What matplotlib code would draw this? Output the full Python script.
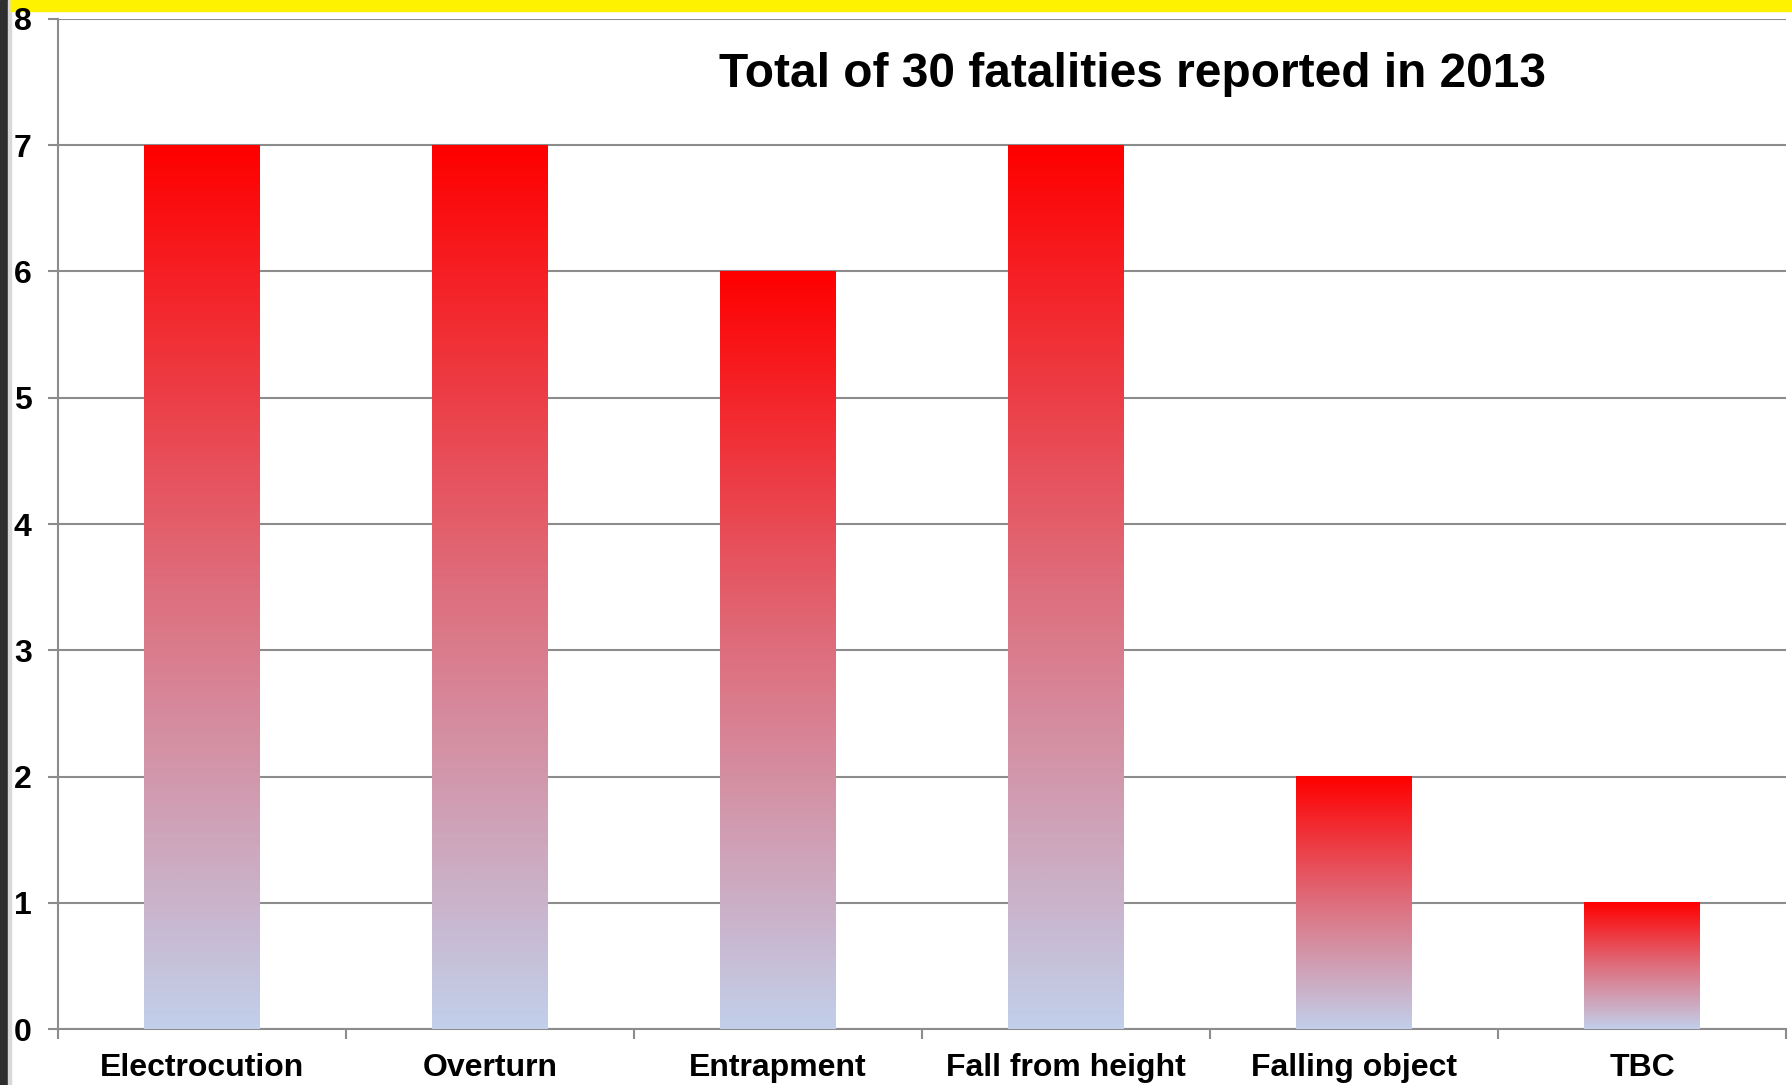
import numpy as np
import matplotlib
matplotlib.use("Agg")
import matplotlib.pyplot as plt
from matplotlib.colors import LinearSegmentedColormap
from matplotlib.patches import Rectangle

categories = ["Electrocution", "Overturn", "Entrapment", "Fall from height",
              "Falling object", "TBC"]
fatalities = [7, 7, 6, 7, 2, 1]
title = "Total of 30 fatalities reported in 2013"

plt.rcParams["font.family"] = ["Liberation Sans", "DejaVu Sans"]
plt.rcParams["font.weight"] = "bold"

GRID = "#8c8c8c"
bar_cmap = LinearSegmentedColormap.from_list(
    "bar", [(0.0, "#c2cfea"), (0.5, "#de6e7d"), (1.0, "#ff0000")])

fig = plt.figure(figsize=(17.92, 10.85), dpi=100)
ax = fig.add_axes([0.0324, 0.0516, 0.9643, 0.9309])

# slide decoration: dark strip on the left, yellow band on top
fig.patches.append(Rectangle((0, 0), 8 / 1792, 1, transform=fig.transFigure,
                             color="#2e2e2e", zorder=-5))
fig.patches.append(Rectangle((8 / 1792, 0), 3 / 1792, 1, transform=fig.transFigure,
                             color="#d8d8d8", zorder=-5))
fig.patches.append(Rectangle((11 / 1792, 1 - 11 / 1085), 1, 11 / 1085,
                             transform=fig.transFigure, color="#fff200", zorder=-5))

x = np.arange(len(categories))
width = 0.40
bars = ax.bar(x, fatalities, width, color="none", edgecolor="none")
grad = np.linspace(0, 1, 256).reshape(-1, 1)
for b in bars:
    x0, y0 = b.get_x(), b.get_y()
    ax.imshow(grad, cmap=bar_cmap, origin="lower", aspect="auto",
              extent=(x0, x0 + b.get_width(), y0, y0 + b.get_height()),
              interpolation="bicubic", zorder=3)

ax.set_xlim(-0.5, len(categories) - 0.5)
ax.set_ylim(0, 8)
ax.set_yticks(range(0, 9))
ax.yaxis.grid(True, color=GRID, linewidth=1.5)
ax.set_axisbelow(True)
ax.patch.set_alpha(0)

ax.set_xticks(x)
ax.set_xticklabels(categories)
ax.set_xticks(np.arange(-0.5, len(categories)), minor=True)
ax.tick_params(axis="x", which="major", length=0, pad=17, labelsize=23)
ax.tick_params(axis="x", which="minor", length=7, width=1.5, color=GRID)
ax.tick_params(axis="y", length=7, width=1.5, color=GRID, pad=12, labelsize=23)

for s in ["top", "right"]:
    ax.spines[s].set_visible(False)
for s in ["left", "bottom"]:
    ax.spines[s].set_color(GRID)
    ax.spines[s].set_linewidth(1.5)

fig.text(0.632, 0.931, title, ha="center", va="center", fontsize=34.5,
         fontweight="bold")

fig.savefig("out.png", dpi=100)
